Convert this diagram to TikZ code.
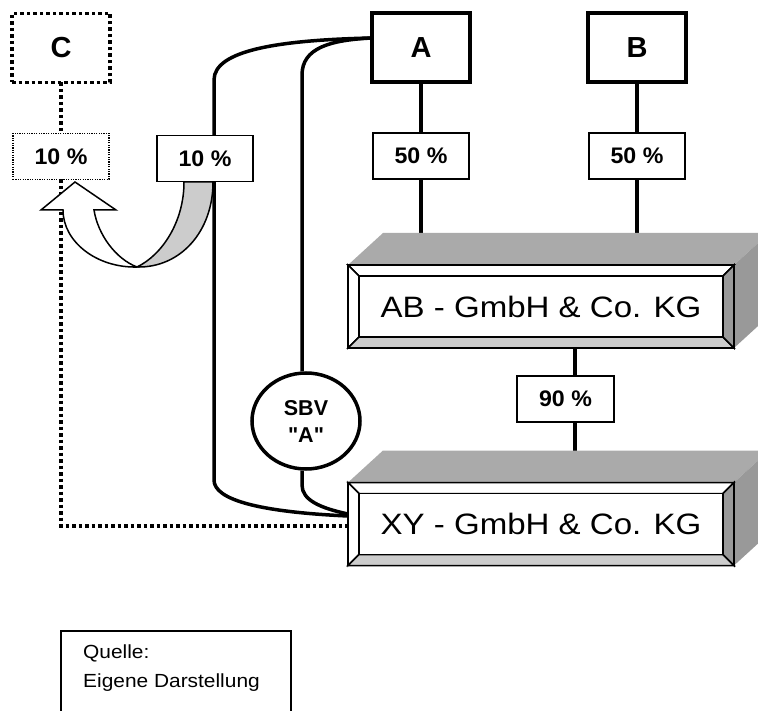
\documentclass[tikz,border=0pt]{standalone}
\usepackage{fontspec}
\setmainfont{Liberation Sans}[Ligatures=TeXOff]
\usetikzlibrary{calc,shapes.geometric}
\pgfdeclarelayer{bg}
\pgfsetlayers{bg,main}
% horizontally widened text
\newcommand{\widetext}[2][1.03]{\scalebox{#1}[1]{#2}}
\definecolor{topgray}{HTML}{AAAAAA}
\definecolor{sidegray}{HTML}{999999}
\definecolor{lightgray}{HTML}{CCCCCC}

\begin{document}
\begin{tikzpicture}[x=1pt,y=-1pt,
  party/.style={draw,line width=3.5pt,fill=white,minimum width=98pt,minimum height=69pt,
    inner sep=0pt,outer sep=0pt,font=\fontsize{29}{30}\selectfont\bfseries},
  share/.style={draw,line width=1.5pt,fill=white,minimum width=96pt,minimum height=46pt,
    inner sep=0pt,outer sep=0pt,font=\fontsize{22.5}{24}\selectfont\bfseries},
  link/.style={line width=3.5pt},
  dotlink/.style={line width=3.5pt,dash pattern=on 3.5pt off 3pt},
  bevel/.style={draw=black,line width=1.5pt,line join=miter},
  front/.style={draw,line width=1.8pt,minimum width=386pt,minimum height=83pt,
    inner sep=0pt,outer sep=0pt,font=\fontsize{29.5}{30}\selectfont},
]
\clip (0,0) rectangle (758,711);

% three-dimensional company boxes
\foreach \nm/\cy/\txt in {AB/306.5/{AB - GmbH \& Co. KG},XY/524/{XY - GmbH \& Co. KG}}{
  \coordinate (\nm-nw) at (348,\cy-41.5);
  \coordinate (\nm-ne) at (734,\cy-41.5);
  \coordinate (\nm-sw) at (348,\cy+41.5);
  \coordinate (\nm-se) at (734,\cy+41.5);
  \coordinate (\nm-inw) at ($(\nm-nw)+(11,11)$);
  \coordinate (\nm-ine) at ($(\nm-ne)+(-11,11)$);
  \coordinate (\nm-isw) at ($(\nm-sw)+(11,-11)$);
  \coordinate (\nm-ise) at ($(\nm-se)+(-11,-11)$);
  \coordinate (\nm-back) at ($(\nm-nw)+(35,-32)$);
  \fill[topgray] (\nm-nw) -- (\nm-back) -- ($(\nm-ne)+(35,-32)$) -- (\nm-ne) -- cycle;
  \fill[sidegray] (\nm-ne) -- ($(\nm-ne)+(35,-32)$) -- ($(\nm-se)+(35,-32)$) -- (\nm-se) -- cycle;
  \filldraw[bevel,fill=white] (\nm-nw) -- (\nm-ne) -- (\nm-ine) -- (\nm-inw) -- cycle;
  \filldraw[bevel,fill=white] (\nm-nw) -- (\nm-inw) -- (\nm-isw) -- (\nm-sw) -- cycle;
  \filldraw[bevel,fill=lightgray] (\nm-sw) -- (\nm-isw) -- (\nm-ise) -- (\nm-se) -- cycle;
  \filldraw[bevel,fill=sidegray] (\nm-ne) -- (\nm-se) -- (\nm-ise) -- (\nm-ine) -- cycle;
  \filldraw[bevel,fill=white] (\nm-inw) rectangle (\nm-ise);
  \node[front] (\nm) at (541,\cy) {\widetext[1.12]{\txt}};
}

% partners and shares
\node[party] (A) at (421,47.5) {A};
\node[party] (B) at (637,47.5) {B};
\node[party,dash pattern=on 3.5pt off 3pt] (C) at (61,48) {C};
\node[share] (pA) at (421,156) {\widetext{50 \%}};
\node[share] (pB) at (637,156) {\widetext{50 \%}};
\node[share,line width=1.2pt,dash pattern=on 1.2pt off 1.2pt] (pC) at (61,156.5) {\widetext{10 \%}};
\node[share] (pS) at (205,158.5) {\widetext{10 \%}};
\node[share,minimum width=97pt] (p90) at (565.5,399) {\widetext{90 \%}};
\node[ellipse,draw,line width=3.5pt,fill=white,minimum width=108pt,minimum height=96pt,
  inner sep=0pt,align=center,font=\fontsize{21.5}{27}\selectfont\bfseries]
  (SBV) at (306,421) {SBV\\"A"};

% source note
\draw[line width=1.5pt] (61,631) rectangle (291,730);
\node[anchor=west,align=left,inner sep=0pt,font=\fontsize{19}{29}\selectfont]
  (src) at (83,668) {\widetext[1.1]{Quelle:}\\\widetext[1.1]{Eigene Darstellung}};

\coordinate (innerx) at (302,0);
\coordinate (midx) at (575,0);
\coordinate (XYdot) at ([yshift=-2pt]XY.west);

\begin{pgfonlayer}{bg}
  % dotted holding of C
  \draw[dotlink] (C) -- (pC);
  \draw[dotlink] (pC.south) -- (pC.south |- XYdot) -- (XYdot);
  % curved transfer arrow
  \filldraw[fill=lightgray,line width=1.5pt]
    (184,182) .. controls (184,222) and (162,255) .. (137,267)
    .. controls (180,268) and (213,232) .. (213,182) -- cycle;
  \filldraw[fill=white,line width=1.5pt,line join=miter]
    (75,182) -- (116,210) -- (94,210)
    .. controls (98,235) and (116,259) .. (137,267)
    .. controls (97,268) and (63,242) .. (63,210)
    -- (41,210) -- cycle;
  % ownership links
  \draw[link] (A) -- (pA);
  \draw[link] (pA.south) -- (pA.south |- AB-back);
  \draw[link] (B) -- (pB);
  \draw[link] (pB.south) -- (pB.south |- AB-back);
  \draw[link] (AB-sw -| midx) -- (p90.north -| midx);
  \draw[link] (p90.south -| midx) -- (XY-back -| midx);
  % links from A to XY
  \draw[link] ([yshift=9.5pt]A.west) .. controls (280,40) and (214,50) .. (214,80)
    -- (214,480) .. controls (214,500) and (260,512) .. ([yshift=8pt]XY.west);
  \draw[link] ([yshift=9.5pt]A.west) .. controls (330,40) and (302,48) .. (302,75)
    -- (SBV.north -| innerx);
  \draw[link] (SBV.south -| innerx) -- (302,485)
    .. controls (302,500) and (320,508) .. ([yshift=10pt]XY.west);
\end{pgfonlayer}
\end{tikzpicture}
\end{document}
